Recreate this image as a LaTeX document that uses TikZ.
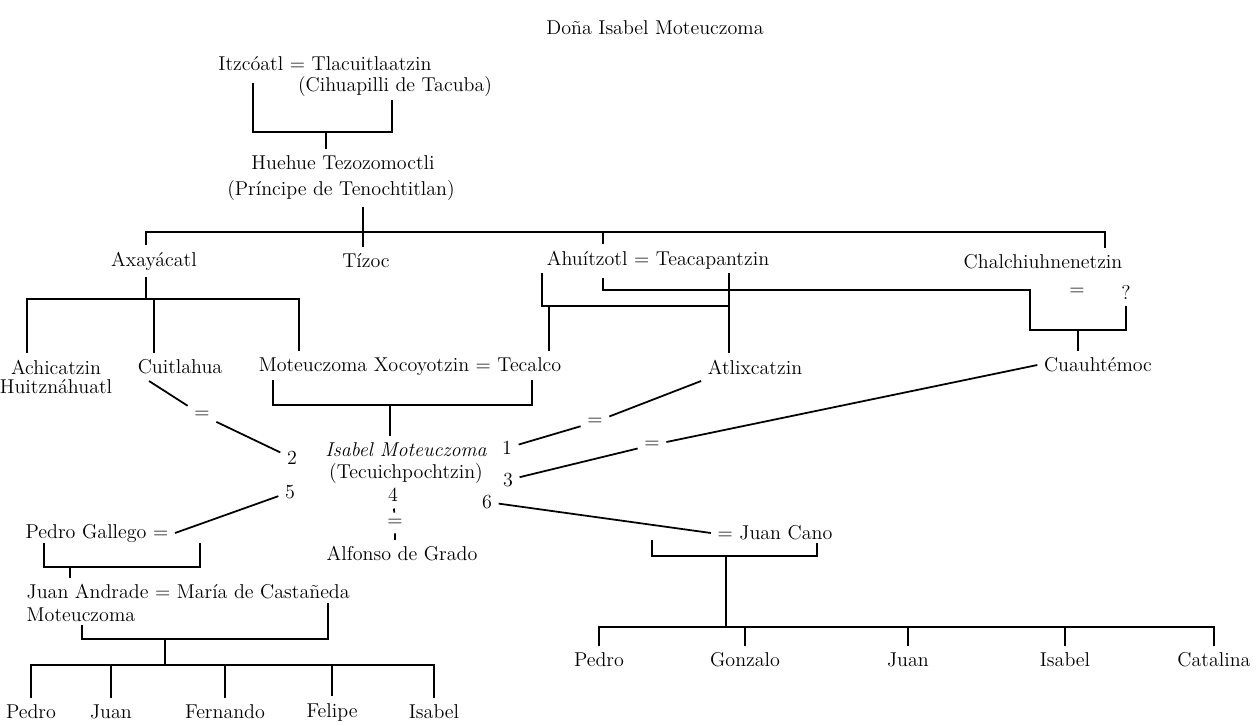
\documentclass[tikz,border=0pt]{standalone}
\usepackage{tikz}

\begin{document}
\begin{tikzpicture}[line width=1pt, every node/.style={font=\fontsize{11.4}{13}\selectfont}]
\useasboundingbox (0,0) rectangle (25.2,-14.52);

% Nodes
\node at (13.10,-0.56) (title) {Doña Isabel Moteuczoma};
\node at (6.50,-1.28) (itz) {Itzcóatl = Tlacuitlaatzin};
\node at (7.90,-1.74) (cih) {(Cihuapilli de Tacuba)};
\node at (6.86,-3.26) (hue) {Huehue Tezozomoctli};
\node at (6.82,-3.80) (hue2) {(Príncipe de Tenochtitlan)};

\node at (3.08,-5.22) (axa) {Axayácatl};
\node at (7.32,-5.22) (tiz) {Tízoc};
\node at (13.16,-5.20) (ahu) {Ahuítzotl = Teacapantzin};
\node at (20.86,-5.24) (chal) {Chalchiuhnenetzin};
\node at (21.54,-5.84) (eqc) {=};
\node at (22.52,-5.84) (qm) {?};

\node at (1.12,-7.34) (achi) {Achicatzin};
\node at (1.12,-7.74) (huitz) {Huitznáhuatl};
\node at (3.60,-7.34) (cui) {Cuitlahua};
\node at (8.20,-7.34) (mxt) {Moteuczoma Xocoyotzin = Tecalco};
\node at (15.10,-7.34) (atl) {Atlixcatzin};
\node at (21.96,-7.30) (cua) {Cuauhtémoc};

\node at (8.12,-9.00) (isa) {\itshape Isabel Moteuczoma};
\node at (8.12,-9.46) (tec) {(Tecuichpochtzin)};
\node at (10.14,-8.96) (n1) {1};
\node at (5.84,-9.16) (n2) {2};
\node at (10.16,-9.60) (n3) {3};
\node at (7.86,-9.90) (n4) {4};
\node at (5.80,-9.84) (n5) {5};
\node at (9.74,-10.04) (n6) {6};
\node at (4.04,-8.30) (eqa) {=};
\node at (11.90,-8.44) (eqb) {=};
\node at (13.04,-8.90) (eqe) {=};
\node at (7.90,-10.46) (eqd) {=};

\node at (8.04,-11.08) (alf) {Alfonso de Grado};
\node at (1.94,-10.66) (pga) {Pedro Gallego =};
\node at (15.50,-10.66) (jcn) {= Juan Cano};
\node[anchor=west] at (0.40,-11.84) (jam) {Juan Andrade = María de Castañeda};
\node[anchor=west] at (0.40,-12.30) (mot) {Moteuczoma};

% children of Juan Andrade
\node at (0.62,-14.24) (ped1) {Pedro};
\node at (2.22,-14.24) (jua1) {Juan};
\node at (4.50,-14.24) (fer1) {Fernando};
\node at (6.64,-14.24) (fel1) {Felipe};
\node at (8.68,-14.24) (isa1) {Isabel};

% children of Juan Cano
\node at (11.98,-13.20) (ped2) {Pedro};
\node at (14.90,-13.20) (gon2) {Gonzalo};
\node at (18.16,-13.20) (jua2) {Juan};
\node at (21.30,-13.20) (isa2) {Isabel};
\node at (24.28,-13.20) (cat2) {Catalina};

% Junctions
\coordinate (itzL) at (5.06,-1.66);
\coordinate (cihR) at (7.84,-2.00);
\coordinate (itzM) at (6.52,-2.64);
\coordinate (gen) at (7.26,-4.64);
\coordinate (ahuT) at (12.06,-4.64);
\coordinate (axaM) at (2.92,-5.98);
\coordinate (cuiT) at (3.08,-5.98);
\coordinate (ahuL) at (10.84,-5.46);
\coordinate (teaR) at (14.58,-5.46);
\coordinate (ahuM) at (10.98,-6.12);
\coordinate (ahuR) at (12.06,-5.56);
\coordinate (cuaL) at (20.60,-5.80);
\coordinate (chM) at (21.56,-6.60);
\coordinate (mxtL) at (5.46,-7.60);
\coordinate (tecR) at (10.64,-7.60);
\coordinate (mxtM) at (7.80,-8.10);
\coordinate (pgaL) at (0.88,-10.86);
\coordinate (pgaR) at (4.00,-10.86);
\coordinate (pgaM) at (1.40,-11.34);
\coordinate (motL) at (1.64,-12.50);
\coordinate (jamR) at (6.56,-12.06);
\coordinate (jamM) at (3.30,-12.78);
\coordinate (kidL) at (3.30,-13.30);
\coordinate (jcnL) at (13.04,-10.80);
\coordinate (jcnR) at (16.34,-10.86);
\coordinate (jcnM) at (14.52,-11.12);
\coordinate (kidR) at (14.52,-12.54);

% Lines
\draw (itzL) |- (itzM) -| (cihR);
\draw (itzM) -- (itzM |- hue.north);
\draw (gen |- hue2.south) -- (gen |- tiz.north);
\draw ([xshift=-0.16cm]axa.north) |- (gen) -| ([xshift=1.24cm]chal.north);
\draw (ahuT) -- (ahuT |- ahu.north);

\draw ([xshift=-0.16cm]axa.south) -- (axaM);
\draw ([xshift=-0.58cm]achi.north) |- (axaM) -| ([xshift=0.94cm]mxt.north west);
\draw (cuiT) -- (cuiT |- cui.north);

\draw (ahuL) |- (ahuM) -| (teaR);
\draw (teaR) -- (teaR |- atl.north);
\draw (ahuM) -- (ahuM |- mxt.north);
\draw (ahuR) |- (cuaL) |- (chM) -| (qm);
\draw (chM) -- (chM |- cua.north);

\draw (mxtL) |- (mxtM) -| (tecR);
\draw (mxtM) -- (mxtM |- isa.north);

% marriages of Isabel
\draw ([xshift=0.36cm]cui.south west) -- (eqa) -- (n2);
\draw (n1) -- (eqb) -- (atl.south west);
\draw (n3) -- (eqe) -- (cua.west);
\draw (n4) -- (eqd) -- (eqd |- alf.north);
\draw (n5) -- (pga.east);
\draw (n6) -- (jcn.west);

\draw (pgaL) |- (pgaM) -| (pgaR);
\draw (pgaM) -- (pgaM |- jam.north);
\draw (motL) |- (jamM) -| (jamR);
\draw (jamM) -- (kidL);
\foreach \n in {ped1,jua1,fer1,fel1,isa1}
  \draw (kidL) -| (\n.north);

\draw (jcnL) |- (jcnM) -| (jcnR);
\draw (jcnM) -- (kidR);
\foreach \n in {ped2,gon2,jua2,isa2,cat2}
  \draw (kidR) -| (\n.north);

\end{tikzpicture}
\end{document}
